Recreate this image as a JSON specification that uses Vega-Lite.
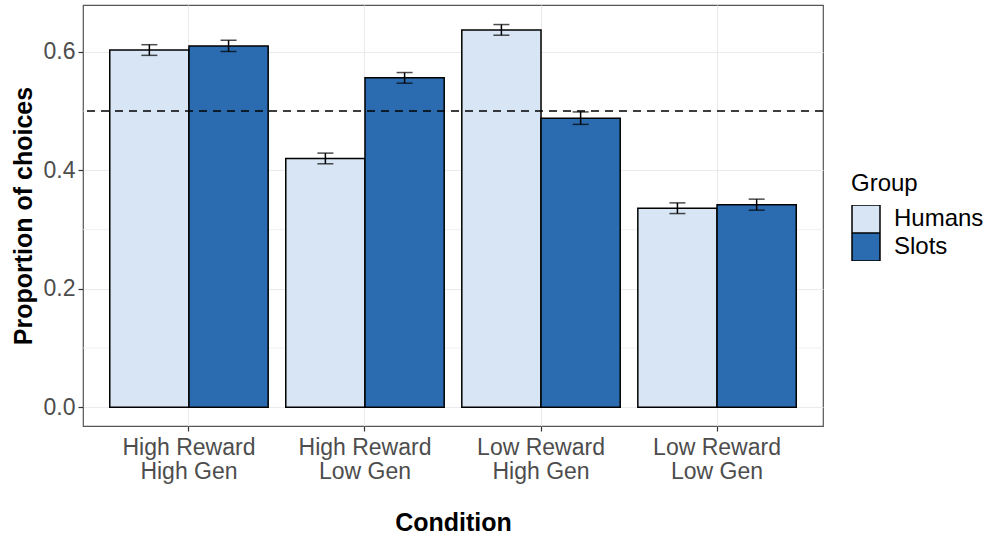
{
  "$schema": "https://vega.github.io/schema/vega-lite/v6.json",
  "width": 740,
  "height": 421,
  "autosize": "none",
  "padding": {"left": 83, "top": 5, "right": 167, "bottom": 111},
  "background": "white",
  "config": {
    "font": "Liberation Sans",
    "view": {"stroke": "#555555", "strokeWidth": 1.2},
    "axis": {
      "labelFont": "Liberation Sans",
      "titleFont": "Liberation Sans",
      "labelFontSize": 23,
      "labelColor": "#4D4D4D",
      "titleFontSize": 25,
      "titleFontWeight": "bold",
      "titleColor": "black",
      "tickColor": "#333333",
      "tickSize": 5,
      "tickWidth": 1.2,
      "domain": false,
      "gridColor": "#EBEBEB",
      "gridWidth": 1.2
    },
    "legend": {
      "titleFont": "Liberation Sans",
      "labelFont": "Liberation Sans"
    }
  },
  "datasets": {
    "main": [
      {"Condition": "High Reward|High Gen", "Group": "Humans", "mean": 0.603, "lo": 0.594, "hi": 0.612},
      {"Condition": "High Reward|High Gen", "Group": "Slots", "mean": 0.610, "lo": 0.6005, "hi": 0.6195},
      {"Condition": "High Reward|Low Gen", "Group": "Humans", "mean": 0.420, "lo": 0.411, "hi": 0.429},
      {"Condition": "High Reward|Low Gen", "Group": "Slots", "mean": 0.556, "lo": 0.547, "hi": 0.565},
      {"Condition": "Low Reward|High Gen", "Group": "Humans", "mean": 0.637, "lo": 0.628, "hi": 0.646},
      {"Condition": "Low Reward|High Gen", "Group": "Slots", "mean": 0.488, "lo": 0.4775, "hi": 0.4985},
      {"Condition": "Low Reward|Low Gen", "Group": "Humans", "mean": 0.336, "lo": 0.327, "hi": 0.345},
      {"Condition": "Low Reward|Low Gen", "Group": "Slots", "mean": 0.342, "lo": 0.3327, "hi": 0.3513}
    ],
    "minor": [{"v": 0.1}, {"v": 0.3}, {"v": 0.5}],
    "ref": [{"ref": 0.5}]
  },
  "layer": [
    {
      "data": {"name": "minor"},
      "mark": {"type": "rule", "color": "#EBEBEB", "strokeWidth": 0.7},
      "encoding": {
        "y": {"field": "v", "type": "quantitative", "scale": {"domain": [-0.0316, 0.679], "nice": false, "zero": false}}
      }
    },
    {
      "data": {"name": "main"},
      "mark": {"type": "bar", "stroke": "black", "strokeWidth": 1.5},
      "encoding": {
        "x": {
          "field": "Condition", "type": "nominal",
          "scale": {"paddingInner": 0.1, "paddingOuter": 0.152},
          "axis": {
            "title": "Condition",
            "labelAngle": 0,
            "labelExpr": "split(datum.label, '|')",
            "labelLineHeight": 24,
            "labelPadding": 5,
            "titlePadding": 27,
            "grid": true
          }
        },
        "xOffset": {"field": "Group", "type": "nominal", "scale": {"paddingInner": 0, "paddingOuter": 0}},
        "y": {
          "field": "mean", "type": "quantitative",
          "scale": {"domain": [-0.0316, 0.679], "nice": false, "zero": false},
          "axis": {
            "title": "Proportion of choices",
            "values": [0, 0.2, 0.4, 0.6],
            "format": ".1f",
            "labelPadding": 3,
            "titlePadding": 7,
            "grid": true
          }
        },
        "y2": {"datum": 0},
        "fill": {
          "field": "Group", "type": "nominal",
          "scale": {"domain": ["Humans", "Slots"], "range": ["#D7E5F4", "#2B6CB0"]},
          "legend": {
            "title": "Group",
            "orient": "none",
            "legendX": 768,
            "legendY": 167,
            "titleFontSize": 24,
            "titleFontWeight": "normal",
            "titleColor": "black",
            "titlePadding": 9,
            "labelFontSize": 24,
            "labelColor": "black",
            "labelOffset": 13,
            "symbolType": "square",
            "symbolSize": 784,
            "symbolStrokeColor": "black",
            "symbolStrokeWidth": 1.5,
            "clipHeight": 28,
            "rowPadding": 0
          }
        }
      }
    },
    {
      "data": {"name": "ref"},
      "mark": {"type": "rule", "strokeDash": [8, 6], "strokeWidth": 1.5, "color": "black"},
      "encoding": {"y": {"field": "ref", "type": "quantitative"}}
    },
    {
      "data": {"name": "main"},
      "mark": {"type": "rule", "color": "black", "strokeWidth": 1.5},
      "encoding": {
        "x": {"field": "Condition", "type": "nominal"},
        "xOffset": {"field": "Group", "type": "nominal"},
        "y": {"field": "lo", "type": "quantitative"},
        "y2": {"field": "hi"}
      }
    },
    {
      "data": {"name": "main"},
      "mark": {"type": "tick", "color": "black", "thickness": 1.5, "size": 16},
      "encoding": {
        "x": {"field": "Condition", "type": "nominal"},
        "xOffset": {"field": "Group", "type": "nominal"},
        "y": {"field": "lo", "type": "quantitative"}
      }
    },
    {
      "data": {"name": "main"},
      "mark": {"type": "tick", "color": "black", "thickness": 1.5, "size": 16},
      "encoding": {
        "x": {"field": "Condition", "type": "nominal"},
        "xOffset": {"field": "Group", "type": "nominal"},
        "y": {"field": "hi", "type": "quantitative"}
      }
    }
  ]
}
